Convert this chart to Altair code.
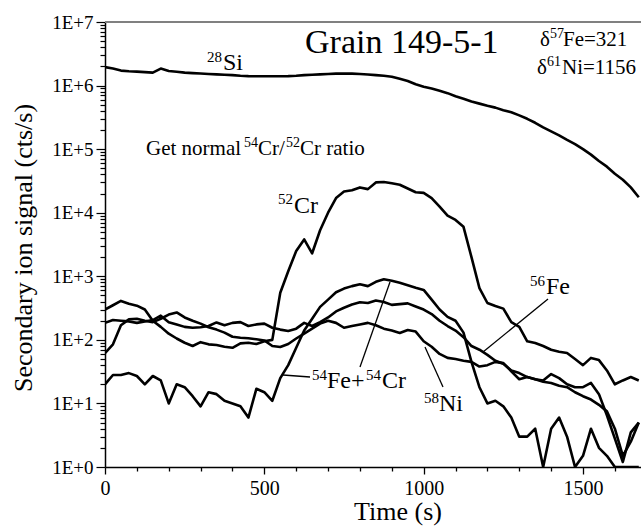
import altair as alt
import pandas as pd

# ---------------- data ----------------
TIME = list(range(0, 1676, 25))  # s

SI28 = [1.95e6, 1.85e6, 1.72e6, 1.68e6, 1.66e6, 1.63e6, 1.6e6, 1.85e6, 1.7e6, 1.65e6,
        1.6e6, 1.57e6, 1.55e6, 1.52e6, 1.5e6, 1.48e6, 1.46e6, 1.43e6, 1.41e6, 1.4e6,
        1.4e6, 1.4e6, 1.4e6, 1.41e6, 1.43e6, 1.46e6, 1.48e6, 1.5e6, 1.52e6, 1.54e6,
        1.55e6, 1.54e6, 1.52e6, 1.49e6, 1.46e6, 1.43e6, 1.38e6, 1.28e6, 1.18e6, 1.05e6,
        9.6e5, 9.0e5, 8.3e5, 7.6e5, 6.8e5, 6.2e5, 5.6e5, 5.2e5, 4.8e5, 4.5e5,
        4.1e5, 3.8e5, 3.4e5, 3.0e5, 2.6e5, 2.2e5, 1.9e5, 1.65e5, 1.4e5, 1.2e5,
        1.0e5, 8.2e4, 6.5e4, 5.3e4, 4.1e4, 3.3e4, 2.5e4, 1.75e4]

CR52 = [300, 350, 410, 370, 345, 300, 200, 160, 125, 105,
        90, 80, 92, 85, 83, 78, 75, 88, 90, 86,
        95, 100, 550, 1200, 2500, 3800, 2300, 5300, 10000, 17000,
        21500, 22500, 25000, 23500, 30000, 30500, 29000, 27500, 24000, 21000,
        20500, 17000, 12500, 9000, 7700, 6000, 2000, 650, 380, 340,
        310, 190, 160, 95, 89, 80, 70, 65, 62, 50,
        40, 52, 48, 33, 20, 23, 26, 23]

FE56 = [185, 205, 200, 195, 185, 195, 205, 240, 190, 175,
        160, 155, 158, 165, 188, 170, 185, 190, 165, 175,
        180, 155, 145, 138, 150, 185, 165, 190, 225, 280,
        320, 360, 390, 380, 415, 395, 355, 365, 375, 335,
        300, 255, 200, 165, 140, 110, 80, 70, 58, 47,
        42, 33, 30, 26, 24, 22, 21, 19, 18, 15,
        13, 11.5, 9.5, 7.5, 4, 1.5, 2.5, 5]

NI58 = [62, 85, 170, 210, 215, 200, 190, 215, 250, 270,
        225, 200, 180, 158, 145, 130, 112, 108, 106, 102,
        98, 80, 77, 86, 105, 125, 150, 180, 200, 185,
        155, 165, 175, 185, 170, 150, 140, 128, 143, 135,
        95, 78, 60, 52, 50, 47, 45, 38, 40, 45,
        43, 32, 24, 26, 24, 23, 29, 25, 20, 18,
        18, 21, 14, 6.5, 2.8, 1.2, 3.5, 5]

FE54CR54 = [20, 28, 28, 30, 27, 20, 27, 23, 10, 20,
            18, 13, 9, 15, 14, 11, 10, 9, 6, 17,
            15, 11, 25, 40, 75, 140, 215, 330, 430, 560,
            640, 700, 750, 700, 820, 900, 850, 790, 720, 660,
            610, 430, 300, 230, 200, 130, 45, 18, 10, 11,
            9, 6, 3, 3, 4, 1, 4, 6, 3, 1,
            1.5, 4, 2, 1.5, 1, 1, 1, 1]

SERIES = {"28Si": SI28, "52Cr": CR52, "56Fe": FE56, "58Ni": NI58, "54Fe+54Cr": FE54CR54}

X_TICKS = list(range(0, 1700, 100))
Y_TICKS = [m * 10 ** k for k in range(7) for m in range(1, 10)] + [10 ** 7]

rows = []
for name, vals in SERIES.items():
    assert len(vals) == len(TIME), (name, len(vals))
    for t, v in zip(TIME, vals):
        rows.append({"series": name, "time": t, "value": v})
df = pd.DataFrame(rows)

# ---------------- layout ----------------
W, H = 536, 445
L, T = 105, 22
FONT = "Liberation Serif, DejaVu Serif, Times New Roman, serif"
MAJOR_Y = "abs(log(datum.value)/LN10 - round(log(datum.value)/LN10)) < 0.001"

x_axis = alt.Axis(
    values=X_TICKS,
    labelExpr="datum.value % 500 == 0 ? '' + datum.value : ''",
    tickSize={"condition": {"test": "datum.value % 500 == 0", "value": 7}, "value": 4},
    labelFont=FONT, labelFontSize=20, labelColor="black", labelPadding=4,
    labelOverlap=False, labelFlush=False,
    domainColor="black", domainWidth=1.5, tickColor="black", tickWidth=1.3,
    grid=False, title=None,
)
y_axis = alt.Axis(
    values=Y_TICKS,
    labelExpr="(" + MAJOR_Y + ") ? '1E+' + round(log(datum.value)/LN10) : ''",
    tickSize={"condition": {"test": MAJOR_Y, "value": 9}, "value": 5},
    labelFont=FONT, labelFontSize=19, labelColor="black", labelPadding=3,
    labelOverlap=False, labelFlush=False,
    domainColor="black", domainWidth=1.5, tickColor="black", tickWidth=1.2,
    grid=False, title=None,
)

lines = alt.Chart(df).mark_line(color="black", strokeWidth=2.6, clip=True,
                                strokeJoin="round").encode(
    x=alt.X("time:Q", scale=alt.Scale(domain=[0, 1682], nice=False, zero=False), axis=x_axis),
    y=alt.Y("value:Q", scale=alt.Scale(type="log", domain=[1, 1e7], nice=False), axis=y_axis),
    detail="series:N",
    order="time:Q",
)

one = pd.DataFrame({"a": [0]})


def txt(s, x, y, size, align="left", angle=0):
    kw = dict(text=s, font=FONT, fontSize=size, align=align, baseline="alphabetic",
              color="black")
    if angle:
        kw["angle"] = angle
    return alt.Chart(one).mark_text(**kw).encode(x=alt.value(x - L), y=alt.value(y - T))


def seg(x1, y1, x2, y2, w=1.3, color="black"):
    return alt.Chart(one).mark_rule(color=color, strokeWidth=w).encode(
        x=alt.value(x1 - L), y=alt.value(y1 - T), x2=alt.value(x2 - L), y2=alt.value(y2 - T)
    )


M, S = 24, 15
texts = [
    txt("Time (s)", 398, 520, 26, "center"),
    txt("Secondary ion signal (cts/s)", 32, 248, 26, "center", angle=270),
    txt("28", 222, 62, S, "right"), txt("Si", 223, 70, M),
    txt("52", 293, 204, S, "right"), txt("Cr", 294, 213, M),
    txt("56", 545, 286, S, "right"), txt("Fe", 546, 294, M),
    txt("54", 327, 380, S, "right"), txt("Fe+", 327, 388, M),
    txt("54", 366, 380, S), txt("Cr", 382, 388, M),
    txt("58", 439, 403, S, "right"), txt("Ni", 439, 411, M),
    txt("Get normal", 146, 155, 21), txt("54", 244, 147, 14), txt("Cr/", 258, 155, 21),
    txt("52", 286, 147, 14), txt("Cr ratio", 300, 155, 21),
    txt("Grain 149-5-1", 305, 53, 34),
    txt("δ", 540, 46, 21), txt("57", 550, 38, 14), txt("Fe=321", 563, 46, 21),
    txt("δ", 537, 74, 21), txt("61", 547, 66, 14), txt("Ni=1156", 562, 74, 21),
]

rules = [
    seg(L, T, L + W, T, w=2, color="#808080"),
    seg(283, 375, 310, 377),
    seg(360, 367, 390, 282),
    seg(443, 387, 425, 347),
    seg(548, 299, 483, 352),
]

chart = alt.layer(lines, *texts, *rules).properties(
    width=W, height=H,
    padding={"left": L, "top": T, "right": 0, "bottom": 532 - T - H},
    autosize=alt.AutoSizeParams(type="none"),
    background="white",
).configure_view(stroke=None).configure(font=FONT)

chart.save("out.html", embed_options={"renderer": "svg", "actions": False})
